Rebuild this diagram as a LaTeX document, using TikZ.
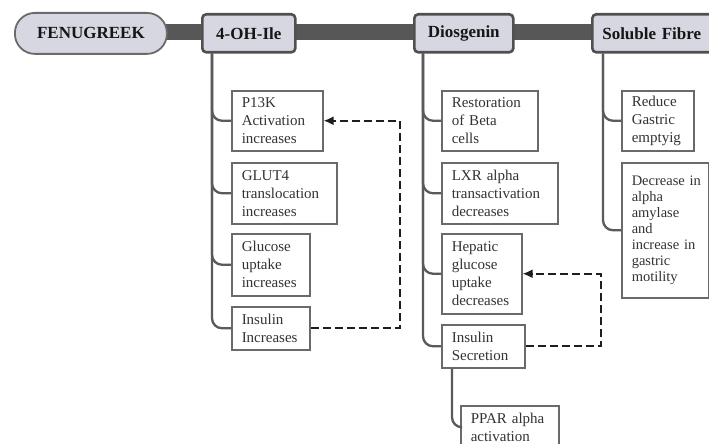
\documentclass[tikz,border=0pt]{standalone}
\usepackage{fontspec}
\setmainfont{Liberation Serif}
\usetikzlibrary{arrows.meta,calc}
\definecolor{hdrfill}{HTML}{D7D7E1}
\definecolor{hdrline}{HTML}{505050}
\definecolor{hdrtxt}{HTML}{161616}
\definecolor{bargray}{HTML}{575757}
\definecolor{boxgray}{HTML}{6A6A6A}
\definecolor{conngray}{HTML}{5A5A5A}
\definecolor{txt}{HTML}{333333}
\definecolor{dashc}{HTML}{1E1E1E}
\begin{document}
\begin{tikzpicture}[x=1pt,y=-1pt,
  box/.style={draw=boxgray, line width=1.5pt, fill=white, anchor=north west,
    inner xsep=10pt, inner ysep=0pt, align=left, text=txt,
    font=\fontsize{15}{18}\selectfont},
  hdr/.style={draw=hdrline, line width=2.6pt, fill=hdrfill, rounded corners=4pt,
    anchor=north west, inner sep=0pt, text=hdrtxt,
    font=\bfseries\fontsize{17}{20}\selectfont},
  conn/.style={draw=conngray, line width=2.3pt, rounded corners=10pt},
  fb/.style={draw=dashc, line width=2pt, dash pattern=on 8pt off 4pt,
    -{Latex[length=10pt,width=9pt]}}]
\useasboundingbox (0,0) rectangle (709,444);
\clip (0,0) rectangle (709,444);
\fill[white] (0,0) rectangle (709,444);
% main bar
\fill[bargray] (150,24) rectangle (715,40);
% headers
\node[hdr, draw=boxgray, line width=1.8pt, rounded corners=20pt,
  minimum width=152pt, minimum height=41pt] (fenu) at (14,12) {FENUGREEK};
\node[hdr, minimum width=93pt, minimum height=38pt] (ohile) at (201,13) {4-OH-Ile};
\node[hdr, minimum width=99pt, minimum height=38pt] (diosg) at (413,13) {Diosgenin};
\node[hdr, minimum width=138pt, minimum height=38pt, text width=118pt, inner xsep=10pt, align=left] (solfib) at (591,13) {Soluble Fibre};
% 4-OH-Ile boxes
\node[box, text width=71pt, minimum height=60pt] (p13k) at (231,90) {P13K\\Activation\\increases};
\node[box, text width=85pt, minimum height=61pt] (glut4) at (231,162) {GLUT4\\translocation\\increases};
\node[box, text width=58pt, minimum height=62pt] (gluc) at (231,233) {Glucose\\uptake\\increases};
\node[box, text width=58pt, minimum height=43pt] (insinc) at (231,306) {Insulin\\Increases};
% Diosgenin boxes
\node[box, text width=76pt, minimum height=60pt] (rest) at (441,90) {Restoration\\of~Beta\\cells};
\node[box, text width=96pt, minimum height=61pt] (lxr) at (441,162) {LXR~alpha\\transactivation\\decreases};
\node[box, text width=60pt, minimum height=80pt] (hep) at (441,233) {Hepatic\\glucose\\uptake\\decreases};
\node[box, text width=63pt, minimum height=43pt] (inssec) at (441,324) {Insulin\\Secretion};
\node[box, text width=78pt, minimum height=43pt] (ppar) at (460,405) {PPAR~alpha\\activation};
% Soluble fibre boxes
\node[box, text width=52pt, minimum height=60pt] (reduce) at (621,90) {Reduce\\Gastric\\emptyig};
\node[box, text width=67pt, minimum height=135pt,
  font=\fontsize{14.5}{16}\selectfont] (decr) at (621,162)
  {Decrease~in\\alpha\\amylase\\and\\increase~in\\gastric\\motility};
% connectors
\coordinate (v1) at ($(ohile.south west)+(11,0)$);
\coordinate (v2) at ($(diosg.south west)+(10,0)$);
\coordinate (v3) at ($(solfib.south west)+(12,0)$);
\coordinate (v4) at ($(inssec.south west)+(11,0)$);
\draw[conn] (v1) |- (p13k.west);
\draw[conn] (v1) |- (glut4.west);
\draw[conn] (v1) |- (gluc.west);
\draw[conn] (v1) |- (insinc.west);
\draw[conn] (v2) |- (rest.west);
\draw[conn] (v2) |- (lxr.west);
\draw[conn] (v2) |- (hep.west);
\draw[conn] (v2) |- (inssec.west);
\draw[conn] (v4) |- (ppar.west);
\draw[conn] (v3) |- (reduce.west);
\draw[conn] (v3) |- (decr.west);
% feedback arrows
\draw[fb] (insinc.east) -- ++(89,0) |- (p13k.east);
\draw[fb] (inssec.east) -- ++(75,0) |- (hep.east);
\end{tikzpicture}
\end{document}
